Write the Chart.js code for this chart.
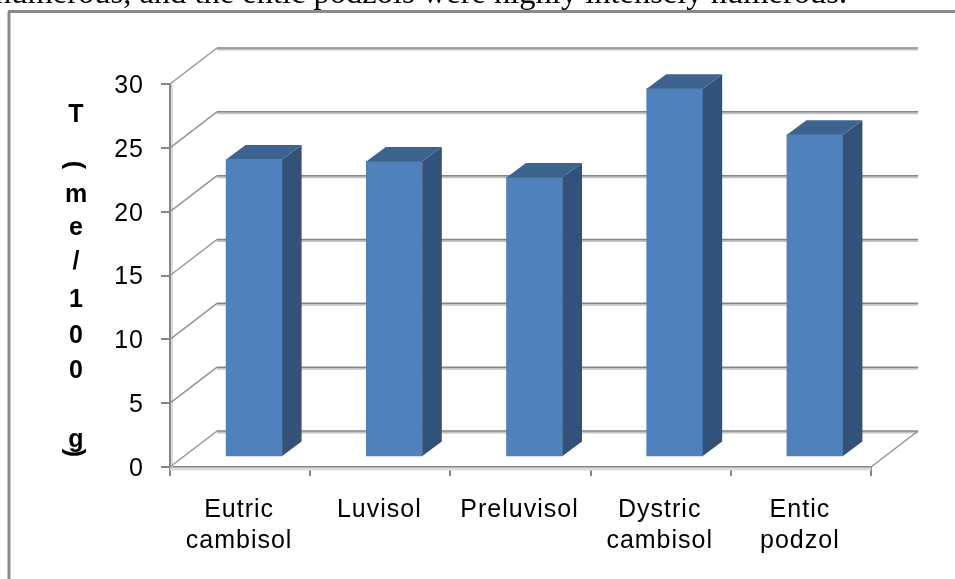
<!DOCTYPE html>
<html>
<head>
<meta charset="utf-8">
<title>T (me/100 g)</title>
<script src="https://cdn.jsdelivr.net/npm/chart.js@4"></script>
<style>
  html, body { margin: 0; padding: 0; background: #fff; overflow: hidden; }
  canvas { display: block; }
</style>
</head>
<body>
<canvas id="soilChart" width="955" height="579"></canvas>
<script>
const categories = [["Eutric", "cambisol"], ["Luvisol"], ["Preluvisol"], ["Dystric", "cambisol"], ["Entic", "podzol"]];
const values = [23.3, 23.15, 21.9, 28.85, 25.25];
const yTicks = [0, 5, 10, 15, 20, 25, 30];
const yTitleChars = ["T", "(", "m", "e", "/", "1", "0", "0", "g", ")"];
const captionText = "numerous, and the entic podzols were highly intensely numerous.";

const GRID_DARK = "#868686";
const GRID_LIGHT = "#c4c4c4";

function line(ctx, x1, y1, x2, y2, color, width) {
  ctx.strokeStyle = color;
  ctx.lineWidth = width;
  ctx.beginPath();
  ctx.moveTo(x1, y1);
  ctx.lineTo(x2, y2);
  ctx.stroke();
}

function poly(ctx, pts, color) {
  ctx.fillStyle = color;
  ctx.beginPath();
  pts.forEach(([x, y], i) => (i ? ctx.lineTo(x, y) : ctx.moveTo(x, y)));
  ctx.closePath();
  ctx.fill();
}

// page text and the grey frame round the figure
const framePlugin = {
  id: "frame",
  beforeDraw(chart) {
    const ctx = chart.ctx;
    ctx.save();
    ctx.letterSpacing = "0px";
    ctx.fillStyle = "#000";
    ctx.font = "32.5px 'Liberation Serif'";
    ctx.textAlign = "left";
    ctx.textBaseline = "alphabetic";
    ctx.fillText(captionText, -5, 2.5);
    line(ctx, 9, 579, 9, 11.5, "#8a8a8a", 3);
    line(ctx, 8, 11.5, 955, 11.5, "#8a8a8a", 3);
    ctx.restore();
    // wider tracking for the axis labels
    ctx.letterSpacing = "1px";
  }
};

// back wall, side wall and floor of the box
const wallsPlugin = {
  id: "walls",
  beforeDatasetsDraw(chart, args, opts) {
    const ctx = chart.ctx;
    const { left, right } = chart.chartArea;
    const y = chart.scales.y;
    ctx.save();
    ctx.letterSpacing = "0px";
    line(ctx, left + 2, chart.chartArea.top, left + 2, chart.chartArea.bottom, "#dcdcdc", 2);
    line(ctx, left, chart.chartArea.bottom + 2, right, chart.chartArea.bottom + 2, "#dcdcdc", 3);
    yTicks.forEach(t => {
      const py = y.getPixelForValue(t);
      const by = py - opts.wallY;
      line(ctx, left, py, left + opts.wallX, by, "#949494", 1.5);
      line(ctx, left + opts.wallX, by + 1.5, right + opts.wallX, by + 1.5, GRID_LIGHT, 2);
      line(ctx, left + opts.wallX, by, right + opts.wallX, by, GRID_DARK, 1.5);
    });
    const floor = y.getPixelForValue(0);
    line(ctx, right, floor, right + opts.wallX, floor - opts.wallY, "#949494", 1.5);
    ctx.restore();
  }
};

// bars stand inside the box, their top and side faces come from the bar elements
const barDepthPlugin = {
  id: "barDepth",
  beforeDatasetDraw(chart, args, opts) {
    const ctx = chart.ctx;
    ctx.save();
    ctx.translate(opts.shiftX, -opts.shiftY);
  },
  afterDatasetDraw(chart, args, opts) {
    const ctx = chart.ctx;
    const dx = opts.depthX, dy = opts.depthY;
    args.meta.data.forEach(bar => {
      const l = bar.x - bar.width / 2, r = bar.x + bar.width / 2;
      poly(ctx, [[r, bar.y], [r + dx, bar.y - dy], [r + dx, bar.base - dy], [r, bar.base]], "#325279");
      poly(ctx, [[l, bar.y], [l + dx, bar.y - dy], [r + dx, bar.y - dy], [r, bar.y]], "#3d6491");
    });
    ctx.restore();
  }
};

// axis title, upright letters stacked down the side with the brackets turned
const yTitlePlugin = {
  id: "yTitle",
  afterDraw(chart, args, opts) {
    const ctx = chart.ctx;
    ctx.save();
    ctx.letterSpacing = "0px";
    ctx.fillStyle = "#000";
    ctx.font = "bold 25px 'Liberation Sans'";
    ctx.textAlign = "center";
    ctx.textBaseline = "middle";
    yTitleChars.forEach((c, i) => {
      const bracket = c === "(" || c === ")";
      ctx.save();
      ctx.translate(bracket ? opts.x - 2 : opts.x, opts.rows[i]);
      if (bracket) ctx.rotate(Math.PI / 2);
      ctx.fillText(c, 0, 0);
      ctx.restore();
    });
    ctx.restore();
  }
};

new Chart(document.getElementById("soilChart"), {
  type: "bar",
  data: {
    labels: categories,
    datasets: [{
      data: values,
      backgroundColor: "#4f81bd",
      barThickness: 56,
      clip: false
    }]
  },
  options: {
    responsive: false,
    animation: false,
    layout: { padding: { top: 84, right: 84, left: 0, bottom: 0 } },
    plugins: {
      legend: { display: false },
      title: { display: false },
      tooltip: { enabled: false },
      walls: { wallX: 47, wallY: 36 },
      barDepth: { shiftX: 14, shiftY: 10, depthX: 19.5, depthY: 14.5 },
      yTitle: { x: 76, rows: [115, 165, 195, 228, 262, 300, 336, 371, 440, 453] }
    },
    scales: {
      x: {
        afterFit(scale) { scale.height = 112; },
        border: { color: GRID_DARK, width: 2 },
        grid: { drawOnChartArea: false, color: GRID_DARK, lineWidth: 2, tickLength: 9 },
        ticks: {
          color: "#000",
          maxRotation: 0,
          padding: 18,
          labelOffset: -1,
          font: { family: "'Liberation Sans'", size: 25, lineHeight: 1.25 }
        }
      },
      y: {
        min: 0,
        max: 30,
        afterFit(scale) { scale.width = 170; },
        afterBuildTicks(scale) { scale.ticks = yTicks.map(value => ({ value })); },
        border: { color: GRID_DARK, width: 2 },
        grid: { drawOnChartArea: false, color: GRID_DARK, lineWidth: 2, tickLength: 9 },
        ticks: {
          color: "#000",
          padding: 17,
          labelOffset: 2,
          font: { family: "'Liberation Sans'", size: 25 }
        }
      }
    }
  },
  plugins: [framePlugin, wallsPlugin, barDepthPlugin, yTitlePlugin]
});
</script>
</body>
</html>
